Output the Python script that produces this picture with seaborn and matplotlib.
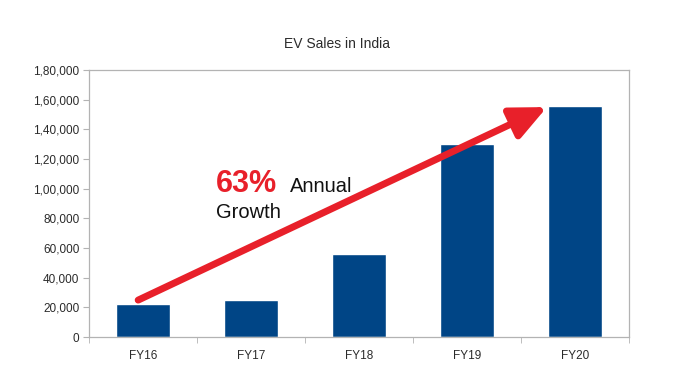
import numpy as np
import pandas as pd
import matplotlib
matplotlib.use("Agg")
import matplotlib.pyplot as plt
import seaborn as sns
from matplotlib.ticker import FuncFormatter, FixedLocator

# Data
years = ["FY16", "FY17", "FY18", "FY19", "FY20"]
sales = [22000, 25000, 56000, 130000, 156000]
y_ticks = [0, 20000, 40000, 60000, 80000, 100000, 120000, 140000, 160000, 180000]

df = pd.DataFrame({"Year": years, "Sales": sales})

sns.set_style("white")
plt.rcParams["font.family"] = ["Liberation Sans", "DejaVu Sans"]

fig = plt.figure(figsize=(6.75, 3.91), dpi=100)
ax = fig.add_axes([0.1319, 0.138, 0.8, 0.683])

sns.barplot(data=df, x="Year", y="Sales", color="#004586",
            saturation=1, width=0.5, ax=ax)


def indian_fmt(v, pos=None):
    s = str(int(round(v)))
    if len(s) <= 3:
        return s
    last3 = s[-3:]
    rest = s[:-3]
    groups = []
    while len(rest) > 2:
        groups.insert(0, rest[-2:])
        rest = rest[:-2]
    if rest:
        groups.insert(0, rest)
    return ",".join(groups + [last3])


ax.set_ylim(0, 180000)
ax.set_xlim(-0.5, 4.5)
ax.set_yticks(y_ticks)
ax.yaxis.set_major_formatter(FuncFormatter(indian_fmt))
ax.set_xlabel("")
ax.set_ylabel("")

# ticks between categories on the x axis
ax.xaxis.set_minor_locator(FixedLocator(np.arange(-0.5, 5, 1)))
ax.tick_params(axis="x", which="major", length=0, pad=9,
               labelsize=8.5, labelcolor="#2b2b2b")
ax.tick_params(axis="x", which="minor", length=4, color="#b3b3b3",
               direction="out", bottom=True)
ax.tick_params(axis="y", length=4, color="#b3b3b3", direction="out",
               left=True, labelsize=8.5, labelcolor="#2b2b2b", pad=3)

for side in ["left", "right", "top", "bottom"]:
    ax.spines[side].set_visible(True)
    ax.spines[side].set_color("#b3b3b3")
    ax.spines[side].set_linewidth(0.9)

fig.text(0.5, 0.887, "EV Sales in India", ha="center", va="center",
         fontsize=10, color="#2b2b2b")

# growth arrow
ax.annotate("", xy=(3.74, 155000), xytext=(-0.045, 24900),
            arrowprops=dict(arrowstyle="-|>,head_length=1.2,head_width=0.55",
                            mutation_scale=18, lw=5, color="#e8202a",
                            shrinkA=0, shrinkB=0))

fig.text(216 / 675, 1 - 192 / 391, "63%", fontsize=22, fontweight="bold",
         color="#e8202a", ha="left", va="baseline")
fig.text(290 / 675, 1 - 192 / 391, "Annual", fontsize=14.5, color="#111111",
         ha="left", va="baseline")
fig.text(216 / 675, 1 - 218 / 391, "Growth", fontsize=14.5, color="#111111",
         ha="left", va="baseline")

fig.savefig("out.png", dpi=100)
